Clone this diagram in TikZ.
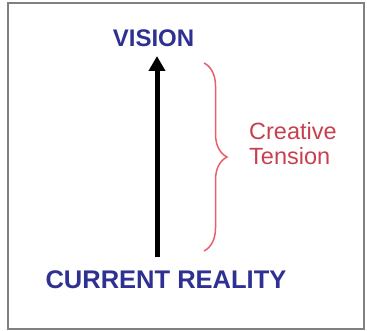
\documentclass[tikz,border=0pt]{standalone}
\usepackage{fontspec}
\setmainfont{Liberation Sans}
\usetikzlibrary{arrows.meta,decorations.pathreplacing}
\definecolor{visblue}{HTML}{2E3192}
\definecolor{tenred}{HTML}{C8404F}
\definecolor{bracered}{HTML}{E8606C}
\definecolor{framegray}{HTML}{808080}
\tikzset{
  bluelabel/.style={text=visblue, font=\bfseries\fontsize{24}{28}\selectfont, inner sep=0pt, anchor=base},
  redlabel/.style={text=tenred, font=\fontsize{23.5}{25}\selectfont, inner sep=0pt, anchor=base west},
  bigarrow/.style={line width=5pt, -{Triangle[width=16pt,length=15pt]}},
  tensionbrace/.style={draw=bracered, line width=1.5pt, decorate, decoration={brace, amplitude=23pt}}
}
\begin{document}
\begin{tikzpicture}[x=1pt,y=-1pt]
\useasboundingbox (0,0) rectangle (367,331);
\draw[framegray, line width=1.5pt] (8,3) rectangle (364,329);
\node[bluelabel] (vision) at (153.5,47) {VISION};
\node[bluelabel, font=\bfseries\fontsize{25.5}{28}\selectfont] (reality) at (166,288) {CURRENT REALITY};
\coordinate (arrowfoot) at (157,257);
\coordinate (arrowtip) at (157,56);
\draw[bigarrow] (arrowfoot) -- (arrowtip);
\coordinate (bracetop) at (204,63);
\coordinate (bracebot) at (204,251);
\draw[tensionbrace] (bracetop) -- (bracebot);
\node[redlabel] (creative) at (249,140) {Creative};
\node[redlabel] (tension) at (249,165) {Tension};
\end{tikzpicture}
\end{document}
